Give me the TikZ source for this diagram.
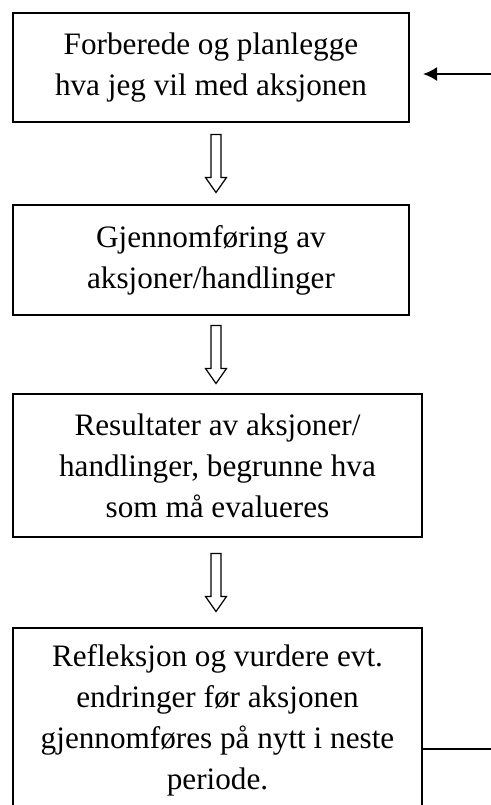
\documentclass[tikz,border=0pt]{standalone}
\usepackage{fontspec}
\setmainfont{Liberation Serif}
\usetikzlibrary{calc,arrows.meta}

\tikzset{
  stage/.style={draw, line width=1pt, align=center, inner sep=0pt,
    font=\fontsize{15.6}{20.5}\selectfont},
  narrow/.style={minimum width=198pt},
  wide/.style={minimum width=204.5pt},
  hollow/.pic={
    \draw [line width=0.6pt, fill=white] (-5,-29) -- (5,-29) -- (5,14) -- (10.5,14)
      -- (0,29) -- (-10.5,14) -- (-5,14) -- cycle;
  }
}

\begin{document}
\begin{tikzpicture}[x=0.5pt, y=-0.5pt]
  \useasboundingbox (0,0) rectangle (491,805);
  \clip (0,0) rectangle (491,805);

  \node [stage, narrow, minimum height=54.5pt] (plan) at (211,67.5)
    {Forberede og planlegge\\hva jeg vil med aksjonen};
  \node [stage, narrow, minimum height=55pt] (gjennom) at (211,260)
    {Gjennomføring av\\aksjoner/handlinger};
  \node [stage, wide, minimum height=71.5pt] (resultat) at (217.5,465.5)
    {Resultater av aksjoner/\\handlinger, begrunne hva\\som må evalueres};
  \node [stage, wide, minimum height=92pt] (refleksjon) at (217.5,720)
    {Refleksjon og vurdere evt.\\endringer før aksjonen\\gjennomføres på nytt i neste\\periode.};

  \coordinate (axis) at (216,0);
  \coordinate (m1) at ($(plan.south)!0.5!(gjennom.north)$);
  \coordinate (m2) at ($(gjennom.south)!0.5!(resultat.north)$);
  \coordinate (m3) at ($(resultat.south)!0.5!(refleksjon.north)$);
  \foreach \m in {m1,m2,m3}
    \pic at (axis |- \m) {hollow};

  \coordinate (inn) at (491,74);
  \coordinate (ut) at (491,749);
  \draw [line width=1pt, -{Latex[length=7pt,width=7pt]}, shorten >=6.5pt]
    (inn) -- (plan.east |- inn);
  \draw [line width=1pt] (refleksjon.east |- ut) -- (ut);
\end{tikzpicture}
\end{document}
